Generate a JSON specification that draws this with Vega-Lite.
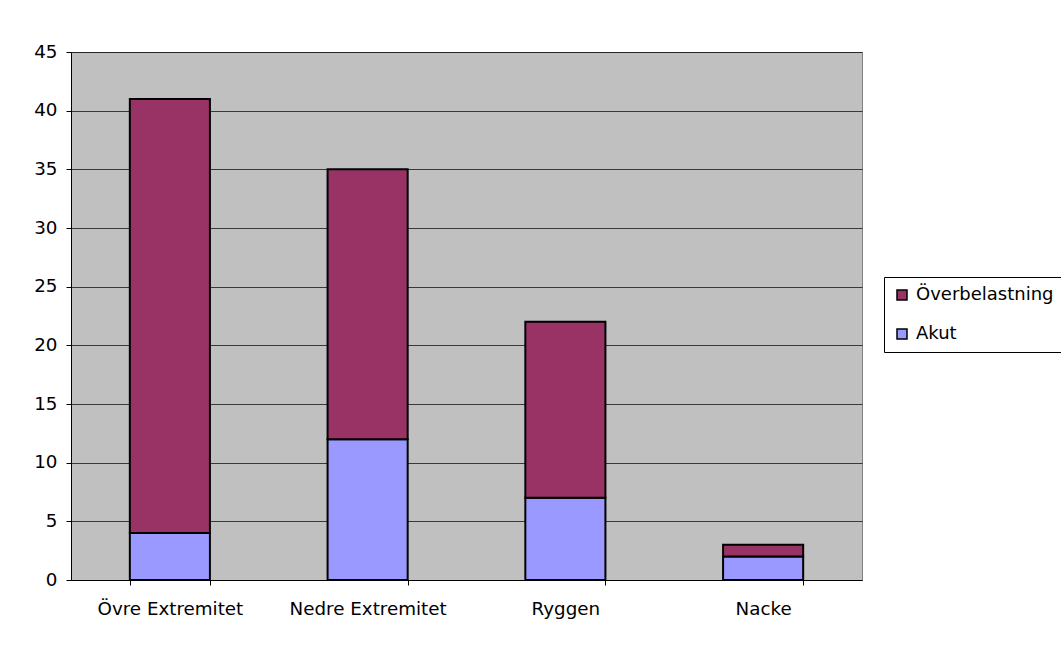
{
  "$schema": "https://vega.github.io/schema/vega-lite/v6.json",
  "autosize": {"type": "none"},
  "width": 791,
  "height": 528,
  "padding": {"left": 71, "top": 52, "right": 199, "bottom": 66},
  "background": "#ffffff",
  "data": {
    "values": [
      {"omrade": "Övre Extremitet", "typ": "Akut", "rang": 1, "antal": 4},
      {"omrade": "Övre Extremitet", "typ": "Överbelastning", "rang": 2, "antal": 37},
      {"omrade": "Nedre Extremitet", "typ": "Akut", "rang": 1, "antal": 12},
      {"omrade": "Nedre Extremitet", "typ": "Överbelastning", "rang": 2, "antal": 23},
      {"omrade": "Ryggen", "typ": "Akut", "rang": 1, "antal": 7},
      {"omrade": "Ryggen", "typ": "Överbelastning", "rang": 2, "antal": 15},
      {"omrade": "Nacke", "typ": "Akut", "rang": 1, "antal": 2},
      {"omrade": "Nacke", "typ": "Överbelastning", "rang": 2, "antal": 1}
    ]
  },
  "mark": {"type": "bar", "stroke": "#000000", "strokeWidth": 2},
  "encoding": {
    "x": {
      "field": "omrade",
      "type": "nominal",
      "sort": ["Övre Extremitet", "Nedre Extremitet", "Ryggen", "Nacke"],
      "scale": {"paddingInner": 0.595, "paddingOuter": 0.2975},
      "axis": {
        "title": null,
        "labelAngle": 0,
        "tickBand": "extent",
        "tickSize": 5,
        "tickColor": "#000000",
        "domainColor": "#000000",
        "labelPadding": 15,
        "grid": false
      }
    },
    "y": {
      "field": "antal",
      "type": "quantitative",
      "stack": "zero",
      "scale": {"domain": [0, 45], "nice": false},
      "axis": {
        "title": null,
        "values": [0, 5, 10, 15, 20, 25, 30, 35, 40, 45],
        "tickSize": 5,
        "tickColor": "#000000",
        "domainColor": "#000000",
        "labelPadding": 9,
        "grid": true,
        "gridColor": "#000000",
        "gridOpacity": 0.7
      }
    },
    "color": {
      "field": "typ",
      "type": "nominal",
      "scale": {"domain": ["Överbelastning", "Akut"], "range": ["#993366", "#9999FF"]},
      "legend": {
        "title": null,
        "orient": "none",
        "legendX": 813,
        "legendY": 225,
        "symbolType": "square",
        "symbolSize": 100,
        "symbolStrokeColor": "#000000",
        "symbolStrokeWidth": 1.5,
        "symbolOpacity": 1,
        "strokeColor": "#000000",
        "fillColor": "#ffffff",
        "padding": 9,
        "rowPadding": 21,
        "labelOffset": 5,
        "labelLimit": 300
      }
    },
    "order": {"field": "rang", "type": "quantitative"}
  },
  "config": {
    "font": "DejaVu Sans",
    "view": {"fill": "#C0C0C0", "stroke": "#808080", "strokeWidth": 1},
    "axis": {
      "labelFont": "DejaVu Sans",
      "labelFontSize": 18.3,
      "labelColor": "#000000",
      "domainWidth": 1,
      "tickWidth": 1,
      "gridWidth": 1
    },
    "legend": {
      "labelFont": "DejaVu Sans",
      "labelFontSize": 18,
      "labelColor": "#000000"
    }
  }
}
